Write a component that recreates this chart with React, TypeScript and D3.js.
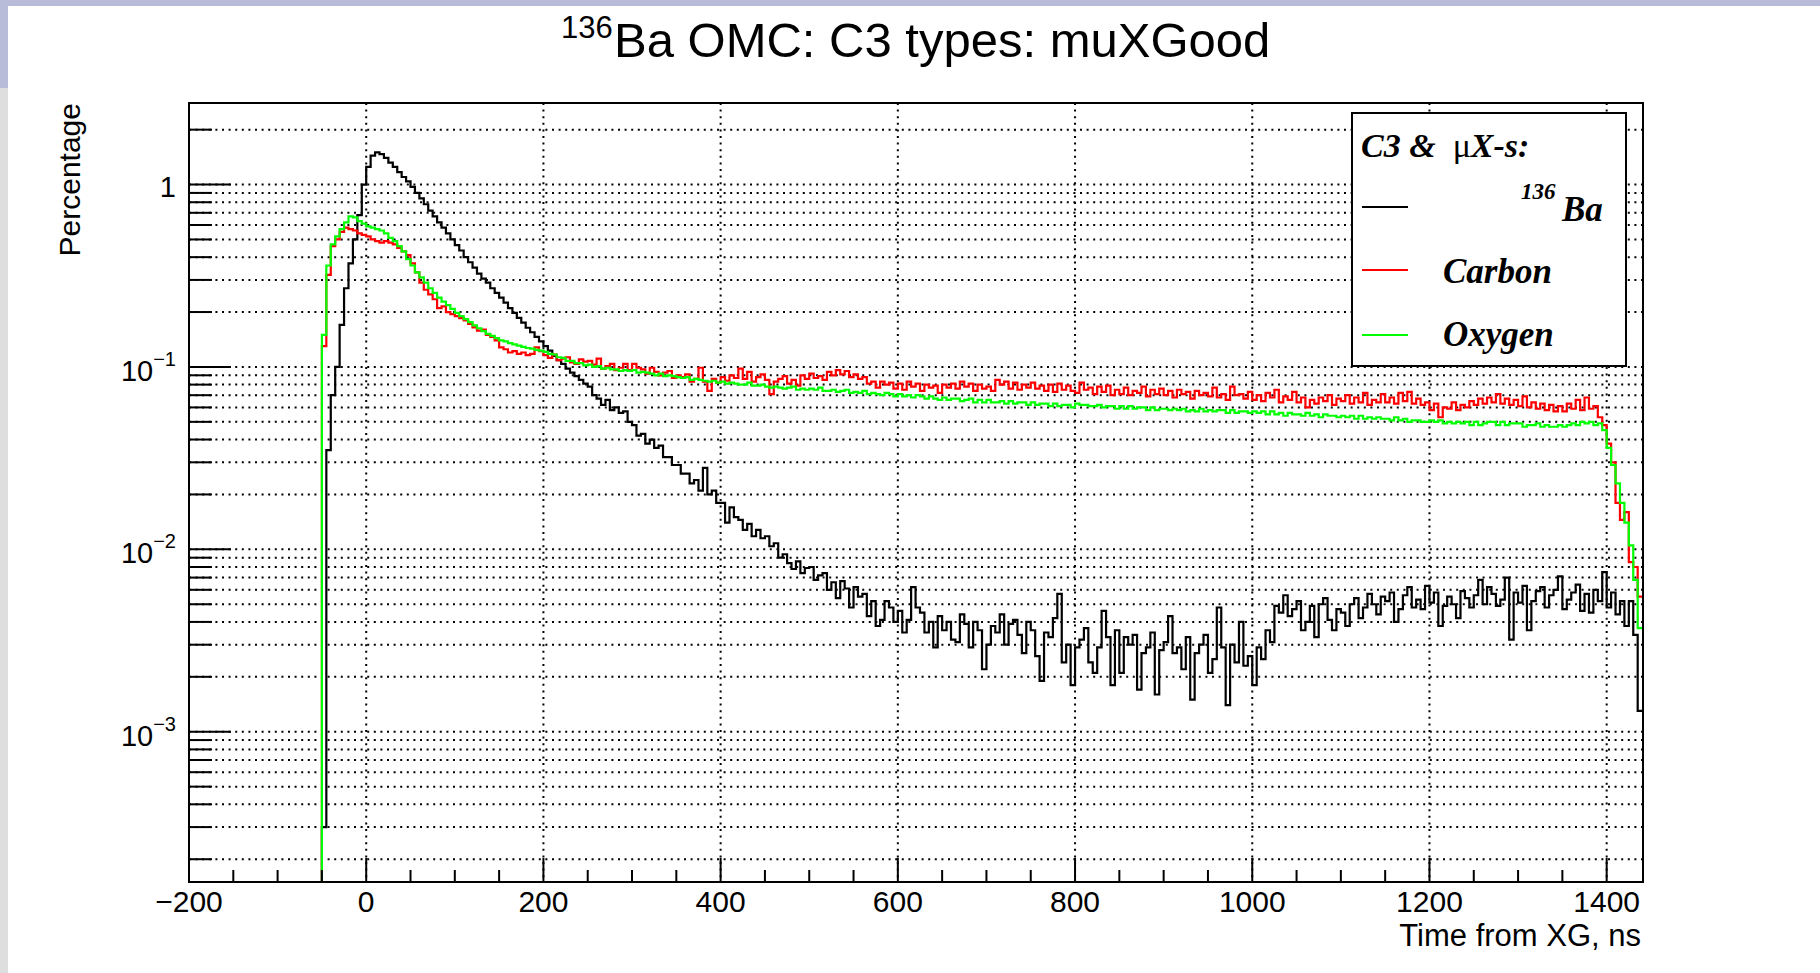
import React from 'react';
import * as d3 from 'd3';

// ---- data: histogram contents (percentage), 5 ns bins starting at -50 ns ----
const BIN_START = -50;
const BIN_WIDTH = 5;

const ba136: number[] = [
  0.0003, 0.035, 0.07, 0.10, 0.17, 0.27, 0.37, 0.50, 0.68, 1.0,
  1.25, 1.44, 1.50, 1.47, 1.40, 1.32, 1.25, 1.17, 1.10, 1.04,
  0.97, 0.90, 0.84, 0.78, 0.72, 0.67, 0.62, 0.58, 0.54, 0.50,
  0.465, 0.435, 0.40, 0.375, 0.35, 0.325, 0.305, 0.29, 0.27, 0.255,
  0.24, 0.225, 0.21, 0.198, 0.186, 0.175, 0.164, 0.155, 0.146, 0.138,
  0.13, 0.123, 0.115, 0.109, 0.104, 0.098, 0.093, 0.089, 0.085, 0.081,
  0.078, 0.070, 0.067, 0.062, 0.066, 0.058, 0.060, 0.056, 0.057, 0.050,
  0.048, 0.042, 0.043, 0.038, 0.040, 0.036, 0.037, 0.032, 0.032, 0.029,
  0.029, 0.026, 0.026, 0.023, 0.024, 0.021, 0.028, 0.020, 0.021, 0.018,
  0.0180, 0.0140, 0.0170, 0.0150, 0.0145, 0.0128, 0.0138, 0.0118, 0.0128, 0.0115,
  0.0118, 0.0104, 0.0108, 0.0090, 0.0094, 0.0084, 0.0078, 0.0086, 0.0074, 0.0079,
  0.0080, 0.0068, 0.0072, 0.0074, 0.0060, 0.0066, 0.0054, 0.0067, 0.0061, 0.0048,
  0.0062, 0.0055, 0.0057, 0.0043, 0.0052, 0.0038, 0.0041, 0.0052, 0.0048, 0.0040,
  0.0046, 0.0035, 0.0041, 0.0062, 0.0048, 0.0045, 0.0035, 0.0040, 0.0029, 0.0043,
  0.0036, 0.0040, 0.0032, 0.0031, 0.0044, 0.0039, 0.0029, 0.0040, 0.0036, 0.0022,
  0.0030, 0.0038, 0.0035, 0.0044, 0.0030, 0.0039, 0.0041, 0.0034, 0.0027, 0.0040,
  0.0036, 0.0026, 0.0019, 0.0035, 0.0033, 0.0042, 0.0057, 0.0024, 0.0030, 0.0018,
  0.0029, 0.0032, 0.0037, 0.0024, 0.0021, 0.0029, 0.0046, 0.0033, 0.0018, 0.0036,
  0.0021, 0.0033, 0.0030, 0.0034, 0.0017, 0.0027, 0.0029, 0.0035, 0.0016, 0.0028,
  0.0031, 0.0043, 0.0027, 0.0029, 0.0022, 0.0033, 0.0015, 0.0027, 0.0030, 0.0034,
  0.0021, 0.0025, 0.0048, 0.0029, 0.0014, 0.0030, 0.0024, 0.0040, 0.0023, 0.0026,
  0.0018, 0.0029, 0.0025, 0.0036, 0.0031, 0.0049, 0.0045, 0.0056, 0.0043, 0.0047,
  0.0052, 0.0036, 0.0040, 0.0049, 0.0033, 0.0050, 0.0054, 0.0041, 0.0036, 0.0047,
  0.0045, 0.0038, 0.0050, 0.0054, 0.0042, 0.0048, 0.0057, 0.0050, 0.0044, 0.0055,
  0.0052, 0.0058, 0.0040, 0.0047, 0.0056, 0.0062, 0.0048, 0.0053, 0.0047, 0.0063,
  0.0051, 0.0058, 0.0038, 0.0049, 0.0055, 0.0050, 0.0042, 0.0059, 0.0054, 0.0048,
  0.0056, 0.0068, 0.0050, 0.0062, 0.0057, 0.0049, 0.0053, 0.0070, 0.0032, 0.0058,
  0.0051, 0.0063, 0.0036, 0.0052, 0.0059, 0.0062, 0.0048, 0.0056, 0.0060, 0.0071,
  0.0047, 0.0053, 0.0058, 0.0064, 0.0046, 0.0057, 0.0045, 0.0060, 0.0052, 0.0075,
  0.0048, 0.0058, 0.0044, 0.0052, 0.0038, 0.0052, 0.0034, 0.0013,
];

const carbon: number[] = [
  0.13, 0.32, 0.46, 0.50, 0.55, 0.58, 0.57, 0.56, 0.54, 0.53,
  0.52, 0.50, 0.49, 0.48, 0.49, 0.48, 0.47, 0.45, 0.43, 0.41,
  0.37, 0.33, 0.29, 0.265, 0.25, 0.235, 0.21, 0.215, 0.20, 0.195,
  0.19, 0.185, 0.18, 0.172, 0.165, 0.158, 0.16, 0.15, 0.146, 0.14,
  0.128, 0.125, 0.12, 0.122, 0.118, 0.12, 0.116, 0.118, 0.128, 0.122,
  0.116, 0.112, 0.117, 0.109, 0.111, 0.113, 0.106, 0.104, 0.110, 0.107,
  0.108, 0.103, 0.111, 0.098, 0.101, 0.104, 0.096, 0.099, 0.104, 0.096,
  0.104, 0.099, 0.097, 0.092, 0.099, 0.094, 0.090, 0.093, 0.095, 0.087,
  0.090, 0.088, 0.091, 0.083, 0.086, 0.099, 0.083, 0.074, 0.086, 0.082,
  0.088, 0.084, 0.090, 0.087, 0.098, 0.086, 0.094, 0.083, 0.088, 0.091,
  0.085, 0.071, 0.083, 0.086, 0.089, 0.081, 0.085, 0.079, 0.090, 0.086,
  0.092, 0.087, 0.089, 0.085, 0.094, 0.090, 0.096, 0.091, 0.095, 0.088,
  0.091, 0.086, 0.088, 0.081, 0.083, 0.077, 0.083, 0.080, 0.082, 0.076,
  0.081, 0.075, 0.083, 0.078, 0.081, 0.074, 0.080, 0.077, 0.079, 0.072,
  0.080, 0.077, 0.081, 0.076, 0.083, 0.078, 0.081, 0.074, 0.080, 0.076,
  0.078, 0.074, 0.085, 0.080, 0.083, 0.076, 0.082, 0.075, 0.080, 0.077,
  0.082, 0.076, 0.079, 0.074, 0.080, 0.073, 0.081, 0.075, 0.079, 0.074,
  0.072, 0.082, 0.075, 0.077, 0.071, 0.078, 0.073, 0.079, 0.070, 0.075,
  0.071, 0.077, 0.070, 0.074, 0.072, 0.078, 0.069, 0.075, 0.071, 0.076,
  0.070, 0.074, 0.068, 0.075, 0.071, 0.073, 0.067, 0.074, 0.070, 0.072,
  0.069, 0.077, 0.068, 0.071, 0.066, 0.078, 0.070, 0.071, 0.067, 0.073,
  0.066, 0.070, 0.065, 0.072, 0.068, 0.075, 0.064, 0.069, 0.066, 0.073,
  0.064, 0.068, 0.060, 0.066, 0.063, 0.068, 0.065, 0.070, 0.062, 0.067,
  0.065, 0.070, 0.063, 0.068, 0.064, 0.072, 0.062, 0.066, 0.064, 0.071,
  0.064, 0.068, 0.063, 0.072, 0.065, 0.073, 0.063, 0.067, 0.062, 0.064,
  0.058, 0.063, 0.053, 0.060, 0.059, 0.064, 0.058, 0.062, 0.060, 0.065,
  0.062, 0.067, 0.063, 0.068, 0.064, 0.071, 0.063, 0.067, 0.062, 0.066,
  0.061, 0.069, 0.060, 0.064, 0.059, 0.063, 0.058, 0.062, 0.057, 0.061,
  0.057, 0.063, 0.059, 0.066, 0.058, 0.068, 0.059, 0.061, 0.053, 0.048,
  0.038, 0.030, 0.018, 0.0145, 0.0160, 0.0085, 0.0080, 0.0055,
];

const oxygen: number[] = [
  0.15, 0.36, 0.47, 0.52, 0.57, 0.62, 0.67, 0.66, 0.63, 0.61,
  0.59, 0.58, 0.57, 0.56, 0.54, 0.51, 0.49, 0.46, 0.43, 0.39,
  0.36, 0.33, 0.31, 0.29, 0.27, 0.255, 0.24, 0.228, 0.218, 0.208,
  0.198, 0.19, 0.183, 0.176, 0.169, 0.163, 0.157, 0.152, 0.148, 0.144,
  0.14, 0.138, 0.135, 0.133, 0.131, 0.129, 0.127, 0.126, 0.124, 0.123,
  0.121, 0.118, 0.117, 0.113, 0.112, 0.108, 0.108, 0.105, 0.105, 0.102,
  0.103, 0.100, 0.101, 0.098, 0.099, 0.097, 0.097, 0.095, 0.096, 0.095,
  0.096, 0.093, 0.094, 0.093, 0.092, 0.090, 0.092, 0.089, 0.090, 0.089,
  0.088, 0.087, 0.088, 0.085, 0.086, 0.085, 0.084, 0.083, 0.084, 0.082,
  0.083, 0.081, 0.082, 0.081, 0.080, 0.080, 0.082, 0.079, 0.079, 0.080,
  0.078, 0.077, 0.078, 0.077, 0.076, 0.077, 0.078, 0.075, 0.076, 0.075,
  0.076, 0.075, 0.077, 0.074, 0.074, 0.075, 0.073, 0.074, 0.075, 0.072,
  0.073, 0.072, 0.074, 0.071, 0.072, 0.071, 0.070, 0.072, 0.071, 0.069,
  0.071, 0.069, 0.070, 0.068, 0.070, 0.069, 0.067, 0.069, 0.067, 0.066,
  0.068, 0.066, 0.067, 0.067, 0.065, 0.066, 0.067, 0.064, 0.066, 0.064,
  0.066, 0.064, 0.064, 0.065, 0.063, 0.065, 0.063, 0.064, 0.064, 0.062,
  0.064, 0.062, 0.063, 0.063, 0.061, 0.063, 0.061, 0.062, 0.062, 0.060,
  0.063, 0.062, 0.062, 0.061, 0.061, 0.062, 0.060, 0.061, 0.061, 0.059,
  0.061, 0.059, 0.061, 0.059, 0.060, 0.060, 0.058, 0.060, 0.058, 0.059,
  0.059, 0.058, 0.059, 0.058, 0.059, 0.057, 0.058, 0.057, 0.059, 0.057,
  0.058, 0.057, 0.058, 0.058, 0.056, 0.058, 0.056, 0.057, 0.057, 0.056,
  0.057, 0.056, 0.057, 0.055, 0.057, 0.055, 0.056, 0.054, 0.056, 0.055,
  0.055, 0.054, 0.056, 0.054, 0.055, 0.053, 0.055, 0.054, 0.054, 0.053,
  0.054, 0.053, 0.054, 0.052, 0.054, 0.052, 0.053, 0.052, 0.053, 0.052,
  0.052, 0.051, 0.053, 0.051, 0.052, 0.050, 0.051, 0.051, 0.050, 0.050,
  0.051, 0.050, 0.051, 0.049, 0.050, 0.049, 0.050, 0.049, 0.050, 0.048,
  0.050, 0.048, 0.049, 0.050, 0.050, 0.048, 0.050, 0.048, 0.049, 0.049,
  0.049, 0.047, 0.048, 0.048, 0.049, 0.047, 0.048, 0.047, 0.047, 0.048,
  0.047, 0.048, 0.049, 0.048, 0.050, 0.049, 0.050, 0.048, 0.049, 0.045,
  0.036, 0.029, 0.023, 0.018, 0.014, 0.0105, 0.0068, 0.0037,
];

// ---- axes ----
const xDomain = [-200, 1441];
const yDomain = [1.5e-4, 2.8];
const xMajorTicks = [-200, 0, 200, 400, 600, 800, 1000, 1200, 1400];
const xTickLabels = ['\u2212200', '0', '200', '400', '600', '800', '1000', '1200', '1400'];
const xMinorStep = 50;
const yDecadeTicks = [1, 0.1, 0.01, 0.001];
const yDecadeBase = ['1', '10', '10', '10'];
const yDecadeExp = ['', '\u22121', '\u22122', '\u22123'];

const titleSup = '136';
const titleMain = 'Ba OMC: C3 types: muXGood';
const xTitle = 'Time from XG, ns';
const yTitle = 'Percentage';

const seriesNames = ['Ba', 'Carbon', 'Oxygen'];
const seriesData = [ba136, carbon, oxygen];
const seriesColors = ['#000000', '#ff0000', '#00ff00'];

// ---- layout ----
const W = 1820;
const H = 973;
const PL = 189, PR = 1643, PT = 103, PB = 882;

const SANS = '"Liberation Sans", Arial, Helvetica, sans-serif';
const SERIF = '"Liberation Serif", "Times New Roman", Times, serif';

export default function App() {
  const x = d3.scaleLinear().domain(xDomain).range([PL, PR]);
  const y = d3.scaleLog().domain(yDomain).range([PB, PT]).clamp(true);

  const yAllTicks: number[] = [];
  for (let e = -4; e <= 0; e++) {
    for (let k = 1; k <= 9; k++) {
      const v = k * Math.pow(10, e);
      if (v >= yDomain[0] && v <= yDomain[1]) yAllTicks.push(v);
    }
  }
  const isDecade = (v: number) => Math.abs(Math.log10(v) - Math.round(Math.log10(v))) < 1e-9;

  const xMinor: number[] = [];
  for (let v = xDomain[0]; v <= xDomain[1]; v += xMinorStep) {
    if (!xMajorTicks.includes(v)) xMinor.push(v);
  }

  const histPath = (vals: number[]) => {
    const pts: [number, number][] = [[BIN_START, yDomain[0]]];
    vals.forEach((v, i) => pts.push([BIN_START + i * BIN_WIDTH, v]));
    pts.push([BIN_START + vals.length * BIN_WIDTH, vals[vals.length - 1]]);
    const line = d3
      .line<[number, number]>()
      .x((d) => x(d[0]))
      .y((d) => y(Math.max(d[1], yDomain[0])))
      .curve(d3.curveStepAfter);
    return line(pts) || '';
  };

  const gridDash = '2 4.6';

  return (
    <svg
      width={W}
      height={H}
      style={{ position: 'absolute', left: 0, top: 0, background: '#ffffff' }}
    >
      <rect x={0} y={0} width={W} height={6} fill="#b8bcd9" />
      <rect x={0} y={0} width={8} height={88} fill="#b8bcd9" />
      <rect x={0} y={88} width={8} height={H - 88} fill="#dedede" />

      {/* title */}
      <text x={561} y={38} fontFamily={SANS} fontSize={31} fill="#000">{titleSup}</text>
      <text x={614} y={57} fontFamily={SANS} fontSize={49} fill="#000">{titleMain}</text>

      <defs>
        <clipPath id="plotclip">
          <rect x={PL} y={PT} width={PR - PL} height={PB - PT} />
        </clipPath>
      </defs>

      {/* grid */}
      <g stroke="#000" strokeWidth={2} strokeDasharray={gridDash} fill="none">
        {yAllTicks.map((v, i) => (
          <line key={'gy' + i} x1={PL} x2={PR} y1={y(v)} y2={y(v)} />
        ))}
        {xMajorTicks
          .filter((v) => v > xDomain[0])
          .map((v, i) => (
            <line key={'gx' + i} x1={x(v)} x2={x(v)} y1={PT} y2={PB} />
          ))}
      </g>

      {/* histograms */}
      <g clipPath="url(#plotclip)" fill="none" strokeWidth={2.2}>
        {seriesData.map((vals, i) => (
          <path key={seriesNames[i]} d={histPath(vals)} stroke={seriesColors[i]} />
        ))}
      </g>

      {/* frame */}
      <rect x={PL} y={PT} width={PR - PL} height={PB - PT} fill="none" stroke="#000" strokeWidth={2} />

      {/* y ticks */}
      <g stroke="#000" strokeWidth={2}>
        {yAllTicks.map((v, i) => (
          <line key={'ty' + i} x1={PL} x2={PL + (isDecade(v) ? 42 : 23)} y1={y(v)} y2={y(v)} />
        ))}
      </g>
      {/* x ticks */}
      <g stroke="#000" strokeWidth={2}>
        {xMajorTicks.map((v, i) => (
          <line key={'tx' + i} x1={x(v)} x2={x(v)} y1={PB} y2={PB - 24} />
        ))}
        {xMinor.map((v, i) => (
          <line key={'txm' + i} x1={x(v)} x2={x(v)} y1={PB} y2={PB - 12} />
        ))}
      </g>

      {/* x tick labels */}
      <g fontFamily={SANS} fontSize={30} textAnchor="middle" fill="#000">
        {xMajorTicks.map((v, i) => (
          <text key={'lx' + i} x={x(v)} y={912}>{xTickLabels[i]}</text>
        ))}
      </g>

      {/* y tick labels */}
      <g fontFamily={SANS} fill="#000">
        {yDecadeTicks.map((v, i) => (
          <text key={'ly' + i} x={176} y={y(v) + (yDecadeExp[i] ? 14 : 12)} textAnchor="end" fontSize={29}>
            {yDecadeBase[i]}
            {yDecadeExp[i] ? (
              <tspan fontSize={20} dy={-15}>{yDecadeExp[i]}</tspan>
            ) : null}
          </text>
        ))}
      </g>

      {/* axis titles */}
      <text x={1641} y={946} textAnchor="end" fontFamily={SANS} fontSize={31} fill="#000">{xTitle}</text>
      <text
        transform={`translate(80, ${PT}) rotate(-90)`}
        textAnchor="end"
        fontFamily={SANS}
        fontSize={30}
        fill="#000"
      >
        {yTitle}
      </text>

      {/* legend */}
      <g>
        <rect x={1352} y={113} width={274} height={253} fill="#fff" stroke="#000" strokeWidth={2} />
        <text x={1361} y={157} fontFamily={SERIF} fontSize={34} fontWeight="bold" fontStyle="italic" fill="#000">
          C3 &amp; <tspan fontStyle="normal" fontWeight="normal">{'\u00a0\u03bc'}</tspan>X-s:
        </text>
        <line x1={1362} x2={1408} y1={207} y2={207} stroke={seriesColors[0]} strokeWidth={2} />
        <text x={1521} y={199} fontFamily={SERIF} fontSize={23} fontWeight="bold" fontStyle="italic" fill="#000">136</text>
        <text x={1562} y={221} fontFamily={SERIF} fontSize={35} fontWeight="bold" fontStyle="italic" fill="#000">{seriesNames[0]}</text>
        <line x1={1362} x2={1408} y1={270} y2={270} stroke={seriesColors[1]} strokeWidth={2} />
        <text x={1443} y={283} fontFamily={SERIF} fontSize={35} fontWeight="bold" fontStyle="italic" fill="#000">{seriesNames[1]}</text>
        <line x1={1362} x2={1408} y1={335} y2={335} stroke={seriesColors[2]} strokeWidth={2} />
        <text x={1443} y={346} fontFamily={SERIF} fontSize={35} fontWeight="bold" fontStyle="italic" fill="#000">{seriesNames[2]}</text>
      </g>
    </svg>
  );
}
